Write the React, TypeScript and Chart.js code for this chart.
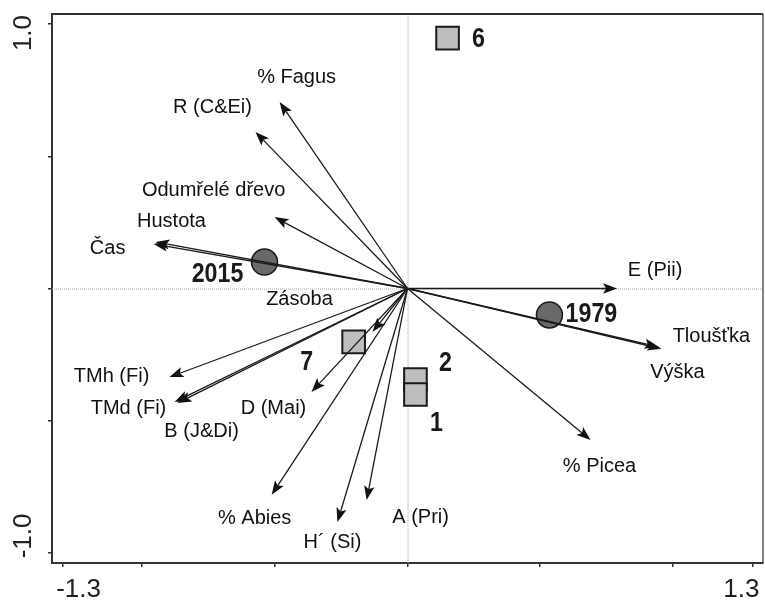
import React, { useEffect, useRef } from 'react';
import { Chart, registerables } from 'chart.js';

Chart.register(...registerables);

// Environmental vectors (biplot arrows)
const arrowNames = [
  'E (Pii)', 'Tloušťka', 'Výška', '% Picea', 'A (Pri)', 'H´ (Si)', '% Abies',
  'D (Mai)', 'Zásoba', 'TMh (Fi)', 'TMd (Fi)', 'B (J&Di)', 'Čas', 'Hustota',
  'Odumřelé dřevo', 'R (C&Ei)', '% Fagus',
];
const arrowX = [0.79, 0.957, 0.946, 0.69, -0.154, -0.264, -0.512, -0.362, -0.132, -0.897, -0.867, -0.878, -0.957, -0.95, -0.501, -0.573, -0.482];
const arrowY = [0.0, -0.228, -0.221, -0.573, -0.8, -0.883, -0.78, -0.391, -0.164, -0.335, -0.433, -0.429, 0.168, 0.176, 0.27, 0.592, 0.705];

// Plots (squares)
const siteNames = ['6', '7', '2', '1'];
const siteX = [0.151, -0.203, 0.03, 0.03];
const siteY = [0.947, -0.202, -0.344, -0.401];

// Years (circles)
const yearNames = ['2015', '1979'];
const yearX = [-0.539, 0.535];
const yearY = [0.1, -0.1];

// Axis ticks
const xTickValues = [-1.3, -1.0, -0.5, 0, 0.5, 1.0, 1.3];
const yTickValues = [-1.0, -0.5, 0, 0.5, 1.0];
const xTickLabels = ['-1.3', '1.3'];
const xTickLabelValues = [-1.3, 1.3];
const yTickLabels = ['-1.0', '1.0'];
const yTickLabelValues = [-1.0, 1.0];

// label placement (pixel offsets of label centre from arrow tip / point)
const arrowLabelOffsets: [number, number][] = [
  [38, -18], [50, -12], [19, 26], [9, 26], [54, 17], [-5, 20], [-17, 24],
  [-38, 17], [-73, -32], [-58, -1], [-49, 5], [27, 30], [-46, 4], [16, -20],
  [-61, -27], [-43, -24], [17, -25],
];
const siteLabelOffsets: [number, number][] = [[31, 0], [-47, 20], [30, -17], [21, 28]];
const yearLabelOffsets: [number, number][] = [[-47, 11], [42, -1]];

const FONT = '"Liberation Sans", Arial, Helvetica, sans-serif';

export default function App() {
  const ref = useRef<HTMLCanvasElement>(null);

  useEffect(() => {
    const canvas = ref.current!;

    const biplot = {
      id: 'biplot',
      beforeDatasetsDraw(chart: any) {
        const { ctx, chartArea: a, scales } = chart;
        const x0 = scales.x.getPixelForValue(0);
        const y0 = scales.y.getPixelForValue(0);
        ctx.save();
        ctx.strokeStyle = '#a8a8a8';
        ctx.lineWidth = 1;
        ctx.setLineDash([1, 1]);
        ctx.beginPath();
        ctx.moveTo(x0 + 0.5, a.top);
        ctx.lineTo(x0 + 0.5, a.bottom);
        ctx.moveTo(a.left, y0 + 0.5);
        ctx.lineTo(a.right, y0 + 0.5);
        ctx.stroke();
        ctx.restore();
      },
      afterDatasetsDraw(chart: any) {
        const { ctx, scales } = chart;
        const xs = scales.x;
        const ys = scales.y;
        const ox = xs.getPixelForValue(0);
        const oy = ys.getPixelForValue(0);
        ctx.save();
        ctx.strokeStyle = '#1a1a1a';
        ctx.fillStyle = '#111';
        ctx.lineWidth = 1.3;
        for (let i = 0; i < arrowNames.length; i++) {
          const tx = xs.getPixelForValue(arrowX[i]);
          const ty = ys.getPixelForValue(arrowY[i]);
          const ang = Math.atan2(ty - oy, tx - ox);
          const L = 14;
          const W = 5.2;
          const bx = tx - L * Math.cos(ang);
          const by = ty - L * Math.sin(ang);
          ctx.beginPath();
          ctx.moveTo(ox, oy);
          ctx.lineTo(bx + 3 * Math.cos(ang), by + 3 * Math.sin(ang));
          ctx.stroke();
          const px = -Math.sin(ang);
          const py = Math.cos(ang);
          const nx = tx - (L - 3) * Math.cos(ang);
          const ny = ty - (L - 3) * Math.sin(ang);
          ctx.beginPath();
          ctx.moveTo(tx, ty);
          ctx.lineTo(bx + W * px, by + W * py);
          ctx.lineTo(nx, ny);
          ctx.lineTo(bx - W * px, by - W * py);
          ctx.closePath();
          ctx.fill();
        }
        // arrow labels
        ctx.font = `20px ${FONT}`;
        ctx.fillStyle = '#111';
        ctx.textAlign = 'center';
        ctx.textBaseline = 'middle';
        for (let i = 0; i < arrowNames.length; i++) {
          const tx = xs.getPixelForValue(arrowX[i]);
          const ty = ys.getPixelForValue(arrowY[i]);
          const [dx, dy] = arrowLabelOffsets[i];
          ctx.fillText(arrowNames[i], tx + dx, ty + dy);
        }
        // bold point labels
        const drawBold = (txt: string, x: number, y: number) => {
          ctx.save();
          ctx.translate(x, y);
          ctx.scale(0.86, 1);
          ctx.font = `bold 27px ${FONT}`;
          ctx.fillStyle = '#1a1a1a';
          ctx.textAlign = 'center';
          ctx.textBaseline = 'middle';
          ctx.fillText(txt, 0, 1);
          ctx.restore();
        };
        for (let i = 0; i < siteNames.length; i++) {
          const [dx, dy] = siteLabelOffsets[i];
          drawBold(siteNames[i], xs.getPixelForValue(siteX[i]) + dx, ys.getPixelForValue(siteY[i]) + dy);
        }
        for (let i = 0; i < yearNames.length; i++) {
          const [dx, dy] = yearLabelOffsets[i];
          drawBold(yearNames[i], xs.getPixelForValue(yearX[i]) + dx, ys.getPixelForValue(yearY[i]) + dy);
        }
        ctx.restore();
      },
      afterDraw(chart: any) {
        const { ctx, chartArea: a, scales } = chart;
        ctx.save();
        ctx.strokeStyle = '#333';
        ctx.lineWidth = 2;
        ctx.beginPath();
        ctx.moveTo(a.left - 1, a.top);
        ctx.lineTo(a.right, a.top);
        ctx.stroke();
        ctx.lineWidth = 1.2;
        ctx.beginPath();
        ctx.moveTo(a.right, a.top);
        ctx.lineTo(a.right, a.bottom);
        ctx.stroke();
        // tick labels
        ctx.fillStyle = '#222';
        ctx.font = `26px ${FONT}`;
        ctx.textAlign = 'center';
        ctx.textBaseline = 'middle';
        const xShift = [16, -11];
        for (let i = 0; i < xTickLabels.length; i++) {
          ctx.fillText(xTickLabels[i], scales.x.getPixelForValue(xTickLabelValues[i]) + xShift[i], a.bottom + 27);
        }
        const yShift = [-17, 9];
        for (let i = 0; i < yTickLabels.length; i++) {
          ctx.save();
          ctx.translate(a.left - 28, scales.y.getPixelForValue(yTickLabelValues[i]) + yShift[i]);
          ctx.rotate(-Math.PI / 2);
          ctx.fillText(yTickLabels[i], 0, 0);
          ctx.restore();
        }
        ctx.restore();
      },
    };

    const chart = new Chart(canvas, {
      type: 'scatter',
      data: {
        datasets: [
          {
            label: 'years',
            data: yearX.map((x, i) => ({ x, y: yearY[i] })),
            pointStyle: 'circle',
            pointRadius: 13,
            pointBackgroundColor: '#69696c',
            pointBorderColor: '#1a1a1a',
            pointBorderWidth: 1.5,
          },
          {
            label: 'plots',
            data: siteX.map((x, i) => ({ x, y: siteY[i] })),
            pointStyle: 'rect',
            pointRadius: 16,
            pointBackgroundColor: '#bebebe',
            pointBorderColor: '#1a1a1a',
            pointBorderWidth: 2,
          },
        ],
      },
      options: {
        responsive: false,
        devicePixelRatio: 1,
        animation: false,
        layout: { autoPadding: false, padding: { top: 14, right: 2, left: 0, bottom: 0 } },
        plugins: { legend: { display: false }, tooltip: { enabled: false } },
        scales: {
          x: {
            type: 'linear',
            min: -1.34,
            max: 1.34,
            afterBuildTicks: (s: any) => {
              s.ticks = xTickValues.map((v) => ({ value: v }));
            },
            afterFit: (s: any) => {
              s.height = 39;
            },
            ticks: { display: false },
            grid: { drawOnChartArea: false, drawTicks: true, tickLength: 4, color: '#333', lineWidth: 1.5 },
            border: { display: true, color: '#333', width: 2 },
          },
          y: {
            type: 'linear',
            min: -1.038,
            max: 1.038,
            afterBuildTicks: (s: any) => {
              s.ticks = yTickValues.map((v) => ({ value: v }));
            },
            afterFit: (s: any) => {
              s.width = 52;
            },
            ticks: { display: false },
            grid: { drawOnChartArea: false, drawTicks: true, tickLength: 4, color: '#333', lineWidth: 1.5 },
            border: { display: true, color: '#333', width: 2 },
          },
        },
      },
      plugins: [biplot],
    } as any);

    return () => chart.destroy();
  }, []);

  return (
    <div style={{ position: 'fixed', left: 0, top: 0, width: 765, height: 602, background: '#fff' }}>
      <canvas ref={ref} width={765} height={602} style={{ display: 'block', width: 765, height: 602 }} />
    </div>
  );
}
